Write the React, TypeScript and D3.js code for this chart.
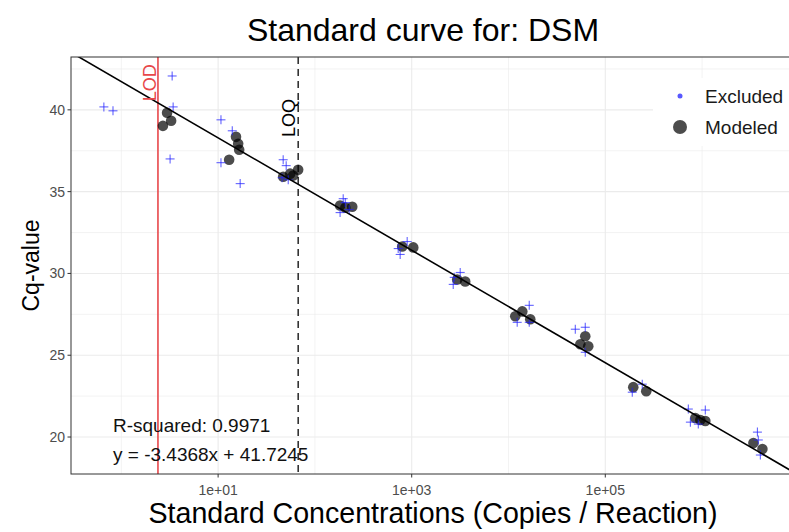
import React from 'react';
import * as d3 from 'd3';

const width = 789;
const height = 532;

// standard curve points
const excludedConc = [0.66, 0.82, 3.35, 3.43, 3.19, 10.7, 14.0, 10.7, 16.9, 47, 50.5, 45.8, 53, 196, 182, 206, 226, 898, 760, 725, 3170, 2685, 2750, 16380, 12300, 16380, 49000, 62100, 62100, 241000, 190000, 721000, 1080000, 757000, 914000, 3730000, 3810000, 4000000];
const excludedCq = [40.18, 39.94, 42.07, 40.18, 37.0, 39.39, 38.72, 36.77, 35.49, 36.95, 36.59, 35.85, 35.73, 34.57, 33.72, 34.33, 33.9, 31.95, 31.16, 31.52, 30.06, 29.33, 29.76, 28.05, 27.01, 27.01, 26.59, 26.71, 25.18, 23.23, 22.74, 21.71, 21.65, 20.91, 20.79, 20.3, 19.82, 18.9];

const modeledConc = [2.97, 3.27, 2.69, 15.3, 16.1, 16.5, 13.0, 47, 55.5, 67.1, 59.6, 182, 206, 243, 798, 1038, 2951, 3571, 11750, 13880, 16780, 55200, 62100, 66700, 194600, 265000, 851000, 959000, 1080000, 3390000, 4200000];
const modeledCq = [39.82, 39.33, 39.02, 38.35, 37.93, 37.56, 36.95, 35.91, 36.1, 36.34, 35.98, 34.15, 34.02, 34.08, 31.65, 31.59, 29.63, 29.51, 27.38, 27.68, 27.2, 25.67, 26.16, 25.55, 23.05, 22.8, 21.16, 21.04, 20.98, 19.63, 19.27];

const slope = -3.4368;
const intercept = 41.7245;
const rSquared = 0.9971;
const lod = 2.39;
const loq = 67.2;

const yTicks = [20, 25, 30, 35, 40];
const yMinor = [22.5, 27.5, 32.5, 37.5, 42.5];
const xTicks = [1e1, 1e3, 1e5];
const xTickLabels = ['1e+01', '1e+03', '1e+05'];
const xMinor = [1e0, 1e2, 1e4, 1e6];

const legendItems = ['Excluded', 'Modeled'];

const margin = {left: 71, right: 795, top: 57, bottom: 474};
const font = 'Liberation Sans, Arial, Helvetica, sans-serif';

export default function App() {
  const x = d3.scaleLog().domain([Math.pow(10, -0.52), Math.pow(10, 6.96)]).range([margin.left, margin.right]);
  const y = d3.scaleLinear().domain([17.74, 43.23]).range([margin.bottom, margin.top]);

  const [x0, x1] = x.domain();
  const fitLine = d3
    .line<number>()
    .x(c => x(c))
    .y(c => y(slope * Math.log10(c) + intercept))([x0, x1]);

  const pw = margin.right - margin.left;
  const ph = margin.bottom - margin.top;

  return (
    <svg width={width} height={height} style={{position: 'absolute', left: 0, top: 0, background: '#fff'}} fontFamily={font}>
      <defs>
        <clipPath id="panel">
          <rect x={margin.left} y={margin.top} width={pw} height={ph} />
        </clipPath>
      </defs>

      {/* grid */}
      <g stroke="#ebebeb">
        {yMinor.map(v => (
          <line key={'ym' + v} x1={margin.left} x2={margin.right} y1={y(v)} y2={y(v)} strokeWidth={0.6} />
        ))}
        {xMinor.map(v => (
          <line key={'xm' + v} x1={x(v)} x2={x(v)} y1={margin.top} y2={margin.bottom} strokeWidth={0.6} />
        ))}
        {yTicks.map(v => (
          <line key={'y' + v} x1={margin.left} x2={margin.right} y1={y(v)} y2={y(v)} strokeWidth={1.1} />
        ))}
        {xTicks.map(v => (
          <line key={'x' + v} x1={x(v)} x2={x(v)} y1={margin.top} y2={margin.bottom} strokeWidth={1.1} />
        ))}
      </g>

      <g clipPath="url(#panel)">
        {/* LOD / LOQ */}
        <line x1={x(lod)} x2={x(lod)} y1={margin.top} y2={margin.bottom} stroke="#e8474a" strokeWidth={1.6} />
        <line x1={x(loq)} x2={x(loq)} y1={margin.top} y2={margin.bottom} stroke="#333" strokeWidth={1.6} strokeDasharray="7,5" />

        {/* modeled points */}
        {modeledConc.map((c, i) => (
          <circle key={'m' + i} cx={x(c)} cy={y(modeledCq[i])} r={5.3} fill="#000" fillOpacity={0.7} />
        ))}

        {/* excluded points */}
        <g stroke="#2020ff" strokeOpacity={0.7} strokeWidth={1.1}>
          {excludedConc.map((c, i) => {
            const cx = x(c);
            const cy = y(excludedCq[i]);
            return (
              <g key={'e' + i}>
                <line x1={cx - 4.5} x2={cx + 4.5} y1={cy} y2={cy} />
                <line x1={cx} x2={cx} y1={cy - 4.5} y2={cy + 4.5} />
              </g>
            );
          })}
        </g>

        {/* regression line */}
        <path d={fitLine || ''} fill="none" stroke="#000" strokeWidth={1.6} />

        <text
          transform={`translate(${x(lod) - 2},${y(41.65)}) rotate(-90)`}
          textAnchor="middle"
          fontSize={18}
          fill="#e8474a">
          LOD
        </text>
        <text
          transform={`translate(${x(loq) - 3},${y(39.5)}) rotate(-90)`}
          textAnchor="middle"
          fontSize={18}
          fill="#000">
          LOQ
        </text>

        <text x={x(0.82)} y={y(20.73)} dominantBaseline="central" fontSize={19} fill="#111">
          R-squared: {rSquared}
        </text>
        <text x={x(0.82)} y={y(18.96)} dominantBaseline="central" fontSize={19} fill="#111">
          y = {slope}x + {intercept}
        </text>
      </g>

      {/* panel border */}
      <rect x={margin.left} y={margin.top} width={pw} height={ph} fill="none" stroke="#333" strokeWidth={1} />

      {/* axes */}
      <g fill="#4d4d4d" fontSize={14}>
        {yTicks.map(v => (
          <g key={'yt' + v}>
            <line x1={margin.left - 3.5} x2={margin.left} y1={y(v)} y2={y(v)} stroke="#333" />
            <text x={margin.left - 6} y={y(v)} textAnchor="end" dominantBaseline="central">
              {v}
            </text>
          </g>
        ))}
        {xTicks.map((v, i) => (
          <g key={'xt' + v}>
            <line x1={x(v)} x2={x(v)} y1={margin.bottom} y2={margin.bottom + 3.5} stroke="#333" />
            <text x={x(v)} y={495} textAnchor="middle">
              {xTickLabels[i]}
            </text>
          </g>
        ))}
      </g>

      <text x={(margin.left + margin.right) / 2} y={523} textAnchor="middle" fontSize={28.6} fill="#000">
        Standard Concentrations (Copies / Reaction)
      </text>
      <text transform={`translate(39,${(margin.top + margin.bottom) / 2}) rotate(-90)`} textAnchor="middle" fontSize={23} fill="#000">
        Cq-value
      </text>
      <text x={423} y={41} textAnchor="middle" fontSize={32} fill="#000">
        Standard curve for: DSM
      </text>

      {/* legend */}
      <g>
        <rect x={653} y={78} width={140} height={68} fill="#fff" />
        <circle cx={680} cy={96} r={2.5} fill="#2020ff" fillOpacity={0.75} />
        <circle cx={680} cy={127} r={7} fill="#000" fillOpacity={0.7} />
        {legendItems.map((t, i) => (
          <text key={t} x={705} y={96 + i * 31} dominantBaseline="central" fontSize={19} fill="#1a1a1a">
            {t}
          </text>
        ))}
      </g>
    </svg>
  );
}
